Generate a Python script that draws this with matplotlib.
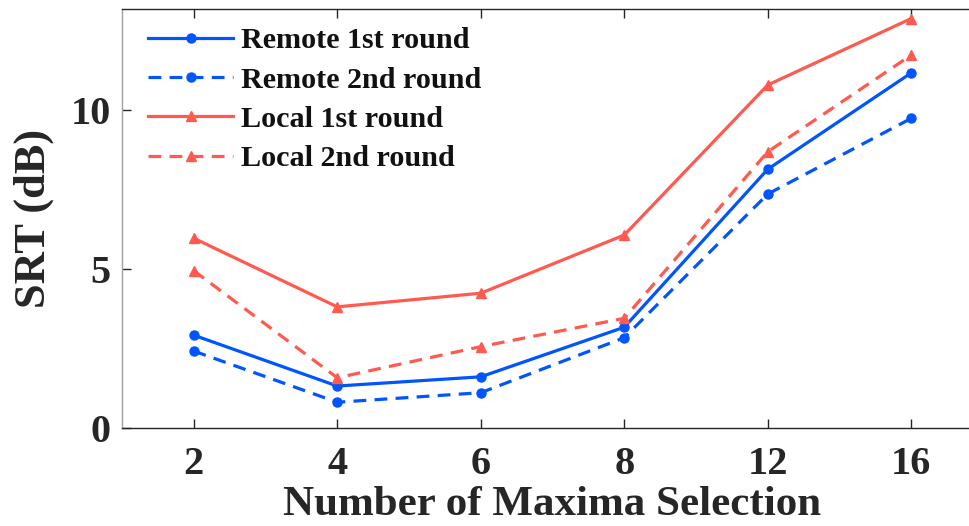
import matplotlib
matplotlib.use("Agg")
import matplotlib.pyplot as plt

categories = ["2", "4", "6", "8", "12", "16"]
remote_1st = [2.92, 1.32, 1.61, 3.17, 8.14, 11.17]
remote_2nd = [2.42, 0.81, 1.11, 2.84, 7.36, 9.74]
local_1st = [5.97, 3.81, 4.24, 6.07, 10.79, 12.88]
local_2nd = [4.95, 1.58, 2.56, 3.45, 8.69, 11.73]
series_labels = ["Remote 1st round", "Remote 2nd round", "Local 1st round", "Local 2nd round"]
yticks = [0, 5, 10]

plt.rcParams['font.family'] = ['Liberation Serif', 'DejaVu Serif']
plt.rcParams['font.weight'] = 'bold'

fig = plt.figure(figsize=(9.69, 5.26), dpi=100)
ax = fig.add_axes([122/969, 98/526, 861/969, 419/526])

blue = "#0055FF"
red = "#FF5A50"
x = list(range(len(categories)))
lw = 2.3
ax.plot(x, remote_1st, color=blue, lw=lw, marker='o', ms=6.5, label=series_labels[0])
ax.plot(x, remote_2nd, color=blue, lw=lw, marker='o', ms=6.5, dashes=(4, 2.6), label=series_labels[1])
ax.plot(x, local_1st, color=red, lw=lw, marker='^', ms=7.5, label=series_labels[2])
ax.plot(x, local_2nd, color=red, lw=lw, marker='^', ms=7.5, dashes=(4, 2.6), label=series_labels[3])

ax.set_xlim(-0.5, len(categories) - 0.5)
ax.set_ylim(0, 13.18)
ax.set_xticks(x)
ax.set_xticklabels(categories)
ax.set_yticks(yticks)
ax.tick_params(direction='in', length=6.5, width=1.0, top=True, right=False,
               labelsize=29, color='#262626', labelcolor='#262626')
ax.tick_params(axis='x', pad=13)
ax.tick_params(axis='y', pad=8)
for lab in ax.get_xticklabels() + ax.get_yticklabels():
    lab.set_fontweight('bold')
ax.spines['left'].set_color('#a0a0a0')
ax.spines['bottom'].set_color('#262626')
ax.spines['top'].set_color('#262626')
ax.spines['right'].set_visible(False)
for s in ax.spines.values():
    s.set_linewidth(1.0)

ax.set_xlabel("Number of Maxima Selection", fontsize=31, fontweight='bold', color='#262626', labelpad=2)
ax.set_ylabel("SRT (dB)", fontsize=32, fontweight='bold', color='#262626', labelpad=12)

leg = ax.legend(loc='upper left', frameon=False, prop={'weight': 'bold', 'size': 21.7},
                handlelength=2.83, handletextpad=0.25, labelspacing=0.41,
                borderpad=0.0, borderaxespad=0.0,
                bbox_to_anchor=(26/861, 1 - 18/419))
for t in leg.get_texts():
    t.set_color('#111111')

fig.savefig("out.png", dpi=100)
